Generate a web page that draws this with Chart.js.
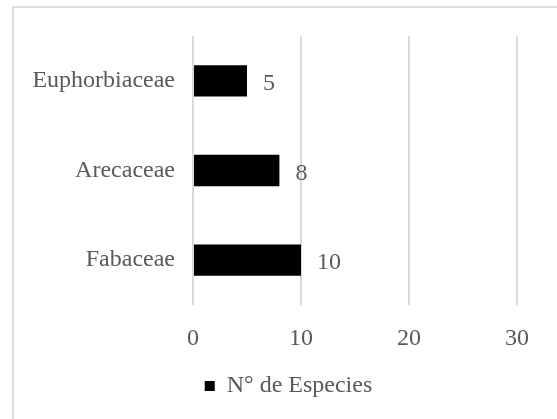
<!DOCTYPE html>
<html>
<head>
<meta charset="utf-8">
<script src="https://cdn.jsdelivr.net/npm/chart.js@4/dist/chart.umd.min.js"></script>
<style>
  html, body { margin: 0; padding: 0; background: #ffffff; overflow: hidden; width: 557px; height: 419px; }
  #frame { position: absolute; left: 12px; top: 6px; width: 700px; height: 600px; border: 2px solid #dcdcdc; box-sizing: border-box; }
  #wrap { position: absolute; left: 0; top: 0; width: 577px; height: 419px; }
</style>
</head>
<body>
<div id="frame"></div>
<div id="wrap"><canvas id="c"></canvas></div>
<script>
const categories = ["Euphorbiaceae", "Arecaceae", "Fabaceae"];
const seriesName = "N° de Especies";
const seriesValues = [5, 8, 10];
const xTicks = [0, 10, 20, 30];

const FONT = "'Liberation Serif', 'Times New Roman', serif";
const TEXT = "#595959";
const FS = 24;

const valueLabels = {
  id: "valueLabels",
  afterDatasetsDraw(chart) {
    const ctx = chart.ctx;
    ctx.save();
    ctx.font = FS + "px " + FONT;
    ctx.fillStyle = TEXT;
    ctx.textAlign = "left";
    ctx.textBaseline = "middle";
    chart.data.datasets.forEach((ds, di) => {
      chart.getDatasetMeta(di).data.forEach((bar, i) => {
        ctx.fillText(String(ds.data[i]), bar.x + 16, bar.y + 3);
      });
    });
    ctx.restore();
  }
};

new Chart(document.getElementById("c"), {
  type: "bar",
  data: {
    labels: categories,
    datasets: [{
      label: seriesName,
      data: seriesValues,
      backgroundColor: "#000000",
      borderWidth: 0,
      categoryPercentage: 0.7,
      barPercentage: 0.5
    }]
  },
  options: {
    indexAxis: "y",
    responsive: true,
    maintainAspectRatio: false,
    animation: false,
    devicePixelRatio: 1,
    layout: { padding: { left: 0, top: 36, right: 0, bottom: 11 } },
    plugins: {
      legend: {
        position: "bottom",
        labels: {
          boxWidth: 10,
          boxHeight: 10,
          padding: 10,
          color: TEXT,
          font: { family: FONT, size: FS }
        }
      },
      tooltip: { enabled: false }
    },
    scales: {
      x: {
        min: xTicks[0],
        max: xTicks[xTicks.length - 1],
        afterBuildTicks(scale) { scale.ticks = xTicks.map(v => ({ value: v })); },
        afterFit(scale) { scale.height = 59; },
        grid: { color: "#d9d9d9", lineWidth: 2, drawTicks: false },
        border: { display: false },
        ticks: { padding: 19, color: TEXT, font: { family: FONT, size: FS } }
      },
      y: {
        afterFit(scale) { scale.width = 193; },
        grid: { display: false, drawTicks: false },
        border: { display: false },
        ticks: { padding: 18, color: TEXT, font: { family: FONT, size: FS } }
      },
      yRight: {
        type: "linear",
        position: "right",
        afterFit(scale) { scale.width = 60; },
        grid: { display: false, drawTicks: false },
        border: { display: false },
        ticks: { display: false }
      }
    }
  },
  plugins: [valueLabels]
});
</script>
</body>
</html>
